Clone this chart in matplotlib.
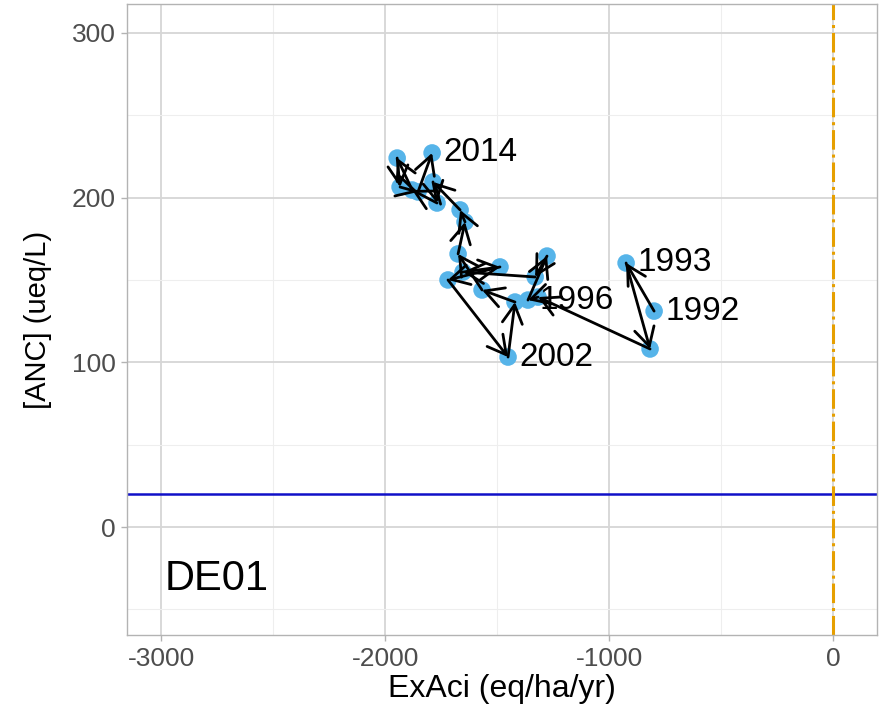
import matplotlib
matplotlib.use("Agg")
import matplotlib.pyplot as plt
from matplotlib.ticker import MultipleLocator

plt.rcParams['font.family'] = ['Liberation Sans', 'DejaVu Sans']
plt.rcParams['axes.unicode_minus'] = False

# data
YEARS = list(range(1992, 2015))
EXACI = [-799, -924, -817, -1317, -1362, -1277, -1330, -1652, -1487, -1719,
         -1451, -1420, -1567, -1674, -1643, -1665, -1786, -1768, -1879, -1946,
         -1933, -1853, -1790]
ANC = [131.1, 160.3, 108.1, 139.6, 137.8, 164.5, 151.8, 154.8, 157.9, 150.0,
       103.2, 136.6, 143.9, 165.8, 185.2, 192.5, 209.5, 196.7, 204.6, 224.0,
       206.4, 203.4, 227.1]
LABEL_YEARS = [1992, 1993, 1996, 2002, 2014]
SITE = "DE01"
ANC_LIMIT = 20
EXACI_ZERO = 0

POINT_COLOR = "#56B4E9"
GRID_MAJOR = "#D6D6D6"
GRID_MINOR = "#EEEEEE"
BORDER = "#B3B3B3"
TICK_TEXT = "#4D4D4D"

fig = plt.figure(figsize=(8.83, 7.08), dpi=100)
ax = fig.add_axes([127 / 883, 73 / 708, 750 / 883, 631 / 708])

ax.set_xlim(-3152, 196)
ax.set_ylim(-65.5, 317.5)

ax.xaxis.set_major_locator(MultipleLocator(1000))
ax.xaxis.set_minor_locator(MultipleLocator(500))
ax.yaxis.set_major_locator(MultipleLocator(100))
ax.yaxis.set_minor_locator(MultipleLocator(50))
ax.grid(which="major", color=GRID_MAJOR, linewidth=1.3, zorder=0)
ax.grid(which="minor", color=GRID_MINOR, linewidth=0.8, zorder=0)
ax.set_axisbelow(True)

for s in ax.spines.values():
    s.set_color(BORDER)
    s.set_linewidth(1.0)
ax.tick_params(which="major", direction="out", length=4, width=1, color=BORDER,
               labelsize=19, labelcolor=TICK_TEXT, pad=4)
ax.tick_params(axis="x", which="major", pad=5)
ax.tick_params(which="minor", length=0)

# reference lines
ax.axhline(ANC_LIMIT, color="#1010C8", linewidth=1.8, zorder=1)
ax.axvline(EXACI_ZERO, color="#E69F00", linewidth=2.2, linestyle="-.", zorder=1)

# points
ax.scatter(EXACI, ANC, s=160, color=POINT_COLOR, edgecolors="none", zorder=2)

# arrows from one year to the next
for i in range(len(YEARS) - 1):
    ax.annotate("", xy=(EXACI[i + 1], ANC[i + 1]), xytext=(EXACI[i], ANC[i]),
                arrowprops=dict(arrowstyle="->,head_length=0.55,head_width=0.3",
                                color="black", lw=2.0, shrinkA=0, shrinkB=0,
                                mutation_scale=24),
                zorder=3)

# year labels
for yr in LABEL_YEARS:
    i = YEARS.index(yr)
    ax.annotate(str(yr), xy=(EXACI[i], ANC[i]), xytext=(8, 0),
                textcoords="offset points", ha="left", va="center",
                fontsize=24, color="black", zorder=4)

ax.text(-2982, -31.6, SITE, ha="left", va="center", fontsize=30, color="black")

ax.set_xlabel("ExAci (eq/ha/yr)", fontsize=23, labelpad=2)
ax.set_ylabel("[ANC] (ueq/L)", fontsize=21, labelpad=14)

fig.savefig("out.png", dpi=100)
